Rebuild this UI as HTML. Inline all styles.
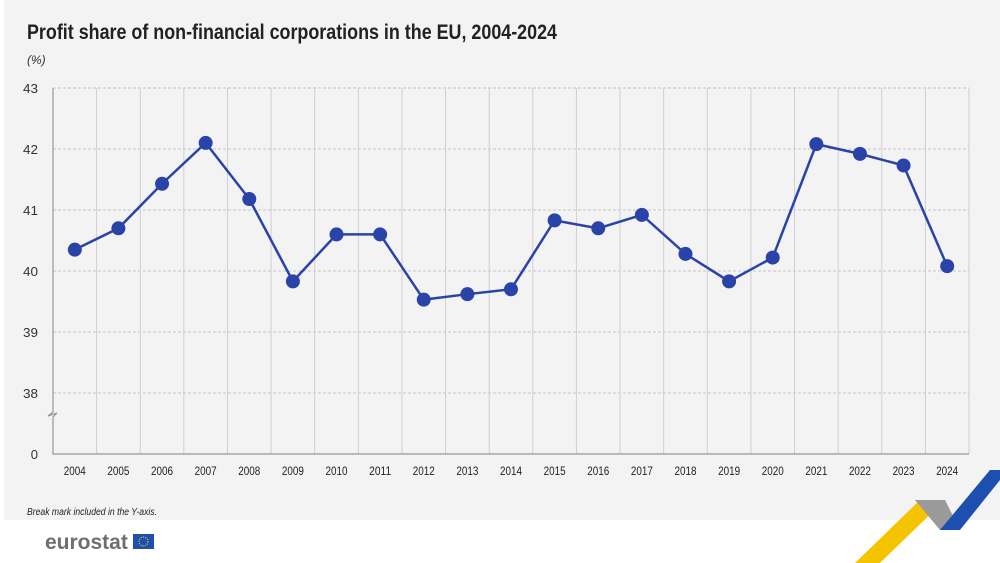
<!DOCTYPE html>
<html><head><meta charset="utf-8"><style>
body{margin:0;width:1000px;height:563px;overflow:hidden;background:#fff;font-family:"Liberation Sans Narrow","Liberation Sans",sans-serif;}
#bg{position:absolute;left:4px;top:0;width:996px;height:520px;background:#f3f3f3;}
</style></head><body>
<div id="bg"></div>
<svg width="1000" height="563" style="position:absolute;left:0;top:0">
<text x="27" y="39" font-size="21" font-weight="bold" fill="#222" textLength="530" lengthAdjust="spacingAndGlyphs">Profit share of non-financial corporations in the EU, 2004-2024</text>
<text x="27" y="64" font-size="12" font-style="italic" fill="#333">(%)</text>
<g id="grid"></g><g id="axes"></g><g id="series"></g>
<text x="27" y="515" font-size="10.5" font-style="italic" fill="#222" textLength="130" lengthAdjust="spacingAndGlyphs">Break mark included in the Y-axis.</text>
<text x="45" y="549" font-size="21" font-weight="bold" fill="#6f6f6f">eurostat</text>
<rect x="133" y="534" width="21" height="15" fill="#1d4fb0"/>
<circle cx="143.5" cy="541.5" r="4.5" fill="none" stroke="#f5d000" stroke-width="1.2" stroke-dasharray="1 1.3"/>
<polygon points="855,563 920,500 945,500 880,563" fill="#f5c400"/>
<polygon points="915,500 945,500 960,530 940,530" fill="#9a9a9a"/>
<polygon points="940,530 990,470 1000,470 1000,480 960,530" fill="#1d4fb0"/>
</svg>
<script>
const years=["2004","2005","2006","2007","2008","2009","2010","2011","2012","2013","2014","2015","2016","2017","2018","2019","2020","2021","2022","2023","2024"];
const values=[40.35,40.7,41.43,42.1,41.18,39.83,40.6,40.6,39.53,39.62,39.7,40.83,40.7,40.92,40.28,39.83,40.22,42.08,41.92,41.73,40.08];
const yTicks=[38,39,40,41,42,43];
const NS="http://www.w3.org/2000/svg";
const L=53,R=969,T=88,B=454;
const bw=(R-L)/years.length;
const x=i=>L+bw*(i+0.5);
const y=v=>393-(v-38)*61;
function mk(tag,attrs,parent){const e=document.createElementNS(NS,tag);for(const k in attrs)e.setAttribute(k,attrs[k]);document.getElementById(parent).appendChild(e);return e;}
yTicks.forEach(t=>{
 const g=mk('line',{x1:L,x2:R,y1:y(t),y2:y(t),stroke:'#c4c4c4','stroke-dasharray':'3 2'},'grid');
 
 
 const tx=mk('text',{x:38,y:y(t)+5,'font-size':13,fill:'#333','text-anchor':'end',textLength:15,lengthAdjust:'spacingAndGlyphs'},'axes');tx.textContent=t;
 
 
});
const z=mk('text',{x:38,y:B+5,'font-size':13,fill:'#333','text-anchor':'end'},'axes');z.textContent='0';


for(let i=1;i<=years.length;i++){
 const g=mk('line',{x1:L+bw*i,x2:L+bw*i,y1:T,y2:B,stroke:'#cfcfcf'},'grid');
 
 
}
years.forEach((yr,i)=>{
 const t=mk('text',{x:x(i),y:475,'font-size':11.5,fill:'#222','text-anchor':'middle',textLength:22,lengthAdjust:'spacingAndGlyphs'},'axes');t.textContent=yr;
 
 
});
const ax=mk('path',{d:`M${L},${T}V412l-5,4l9,-3l-4,4V${B}H${R}`,stroke:'#999',fill:'none','stroke-width':1.2},'axes');


const ln=mk('polyline',{points:values.map((v,i)=>x(i)+','+y(v)).join(' '),fill:'none',stroke:'#2a43a8','stroke-width':2.5},'series');


values.forEach((v,i)=>{
 const c=mk('circle',{cx:x(i),cy:y(v),r:7,fill:'#2a43a8'},'series');
 
 
});
</script>
</body></html>
